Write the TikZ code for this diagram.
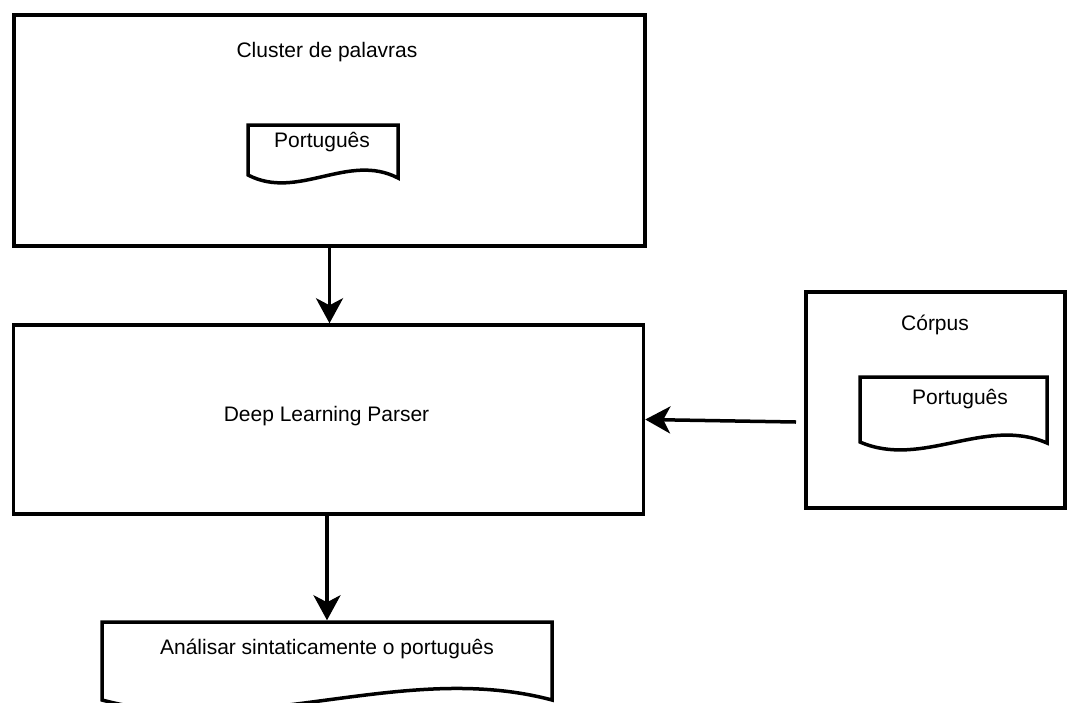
\documentclass[tikz,border=0pt]{standalone}
\usepackage{fontspec}
\setmainfont{Liberation Sans}
\usetikzlibrary{arrows.meta}
\begin{document}
\begin{tikzpicture}[x=1pt,y=-1pt,line width=3.5pt,
  box/.style={draw,rectangle,inner sep=0pt},
  lbl/.style={inner sep=0pt,font=\fontsize{21}{25}\selectfont},
  doc/.style={draw,line join=miter},
  arr/.style={-{Stealth[length=25pt,width=27pt,inset=7pt]}}]
\useasboundingbox (0,0) rectangle (1070,702);
% boxes
\node[box,minimum width=631pt,minimum height=231pt] (box1) at (329.5,130.5) {};
\node[box,minimum width=630pt,minimum height=189pt] (box2) at (328.5,419.5) {};
\node[box,minimum width=259pt,minimum height=216pt] (box3) at (935.5,400) {};
% documents
\draw[doc] (248,125) -- (398,125) -- (398,178) .. controls (348,152) and (298,201) .. (248,175) -- cycle;
\draw[doc] (860,377) -- (1047,377) -- (1047,443) .. controls (985,416) and (922,469) .. (860,442) -- cycle;
\draw[doc] (102,622) -- (552,622) -- (552,700) .. controls (402,660) and (252,740) .. (102,700) -- cycle;
\node[inner sep=0pt,minimum width=450pt,minimum height=2pt] (doc3) at (327,623) {};
% labels
\node[lbl] (t1) at (327,52) {Cluster de palavras};
\node[lbl] (d1) at (322,142) {Português};
\node[lbl] (t2) at (326.5,416) {Deep Learning Parser};
\node[lbl] (t3) at (935,325) {Córpus};
\node[lbl] (d2) at (960,399) {Português};
\node[lbl] (d3) at (327,649) {Análisar sintaticamente o português};
% connectors
\coordinate (c3) at (796,422);
\draw[arr] (box1.south) -- (box2.north -| box1.south);
\draw[arr] (box2.south -| doc3) -- (doc3.north);
\draw[arr] (c3) -- (box2.east);
\end{tikzpicture}
\end{document}
